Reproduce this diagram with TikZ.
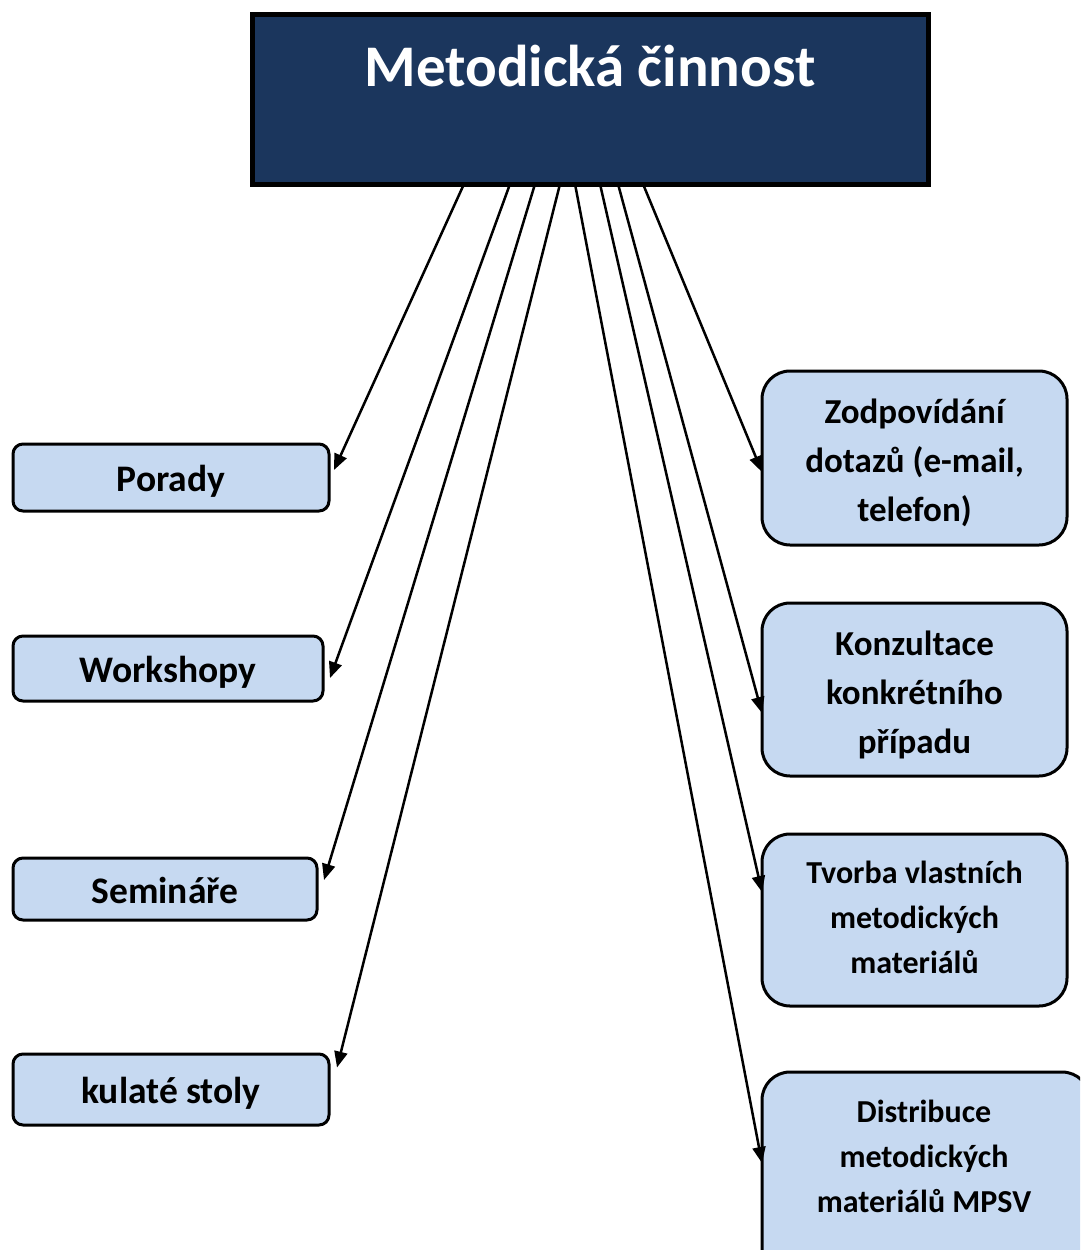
\documentclass[tikz,border=0pt]{standalone}
\usepackage{fontspec}
\setmainfont{Carlito}
\usetikzlibrary{arrows.meta}
\definecolor{navy}{RGB}{27,54,93}
\definecolor{boxblue}{RGB}{198,217,241}
\begin{document}
\begin{tikzpicture}[x=1pt,y=-1pt,
  titlebox/.style={draw=black,line width=5pt,fill=navy,inner sep=0pt,outer sep=0pt},
  lbox/.style={draw=black,line width=3pt,fill=boxblue,rounded corners=10pt,inner sep=0pt,outer sep=0pt,text height=28pt,text depth=0pt,font=\bfseries\fontsize{37.5}{40}\selectfont},
  rbox/.style={draw=black,line width=3pt,fill=boxblue,rounded corners=28pt,inner sep=0pt,outer sep=0pt},
  rtext/.style={align=center,inner sep=0pt,font=\bfseries\fontsize{35}{49}\selectfont},
  rtextsmall/.style={rtext,font=\bfseries\fontsize{32}{45}\selectfont},
  arr/.style={line width=2.5pt,-{Triangle[length=16pt,width=13pt]}}]
\useasboundingbox (0,0) rectangle (1080,1250);
\clip (0,0) rectangle (1080,1250);
\fill[white] (0,0) rectangle (1080,1250);

% title
\node[titlebox,minimum width=676,minimum height=170] (title) at (590,99) {};
\node[text=white,font=\bfseries\fontsize{59}{62}\selectfont] (titletext) at (590,66) {Metodická činnost};

% left boxes
\node[lbox,minimum width=316,minimum height=67] (porady) at (171,477.5) {Porady};
\node[lbox,minimum width=310,minimum height=65] (workshopy) at (168,668.5) {Workshopy};
\node[lbox,minimum width=304,minimum height=62] (seminare) at (165,889) {Semináře};
\node[lbox,minimum width=316,minimum height=71] (kulate) at (171,1089.5) {kulaté stoly};

% right boxes
\node[rbox,minimum width=305,minimum height=174] (zodp) at (914.5,458) {};
\node[rtext] (zodptext) at (914.5,463) {Zodpovídání\\dotazů (e-mail,\\telefon)};
\node[rbox,minimum width=305,minimum height=173] (konz) at (914.5,689.5) {};
\node[rtext] (konztext) at (914.5,695) {Konzultace\\konkrétního\\případu};
\node[rbox,minimum width=305,minimum height=172] (tvorba) at (914.5,920) {};
\node[rtextsmall] (tvorbatext) at (914.5,917) {Tvorba vlastních\\metodických\\materiálů};
\node[rbox,minimum width=328,minimum height=228] (distbox) at (926,1186) {};
\node[rtextsmall] (disttext) at (924,1156) {Distribuce\\metodických\\materiálů MPSV};

% connectors
\draw[arr] ([xshift=-126]title.south) -- ([xshift=5,yshift=7.5]porady.east);
\draw[arr] ([xshift=-80]title.south) -- ([xshift=7,yshift=-9.5]workshopy.east);
\draw[arr] ([xshift=-55]title.south) -- ([xshift=7,yshift=9]seminare.east);
\draw[arr] ([xshift=-30]title.south) -- ([xshift=8,yshift=22]kulate.east);
\draw[arr] ([xshift=-15]title.south) -- ([yshift=23]distbox.west);
\draw[arr] ([xshift=10]title.south) -- ([yshift=28]tvorba.west);
\draw[arr] ([xshift=28]title.south) -- ([yshift=-23.5]konz.west);
\draw[arr] ([xshift=53]title.south) -- ([yshift=-14]zodp.west);
\end{tikzpicture}
\end{document}
